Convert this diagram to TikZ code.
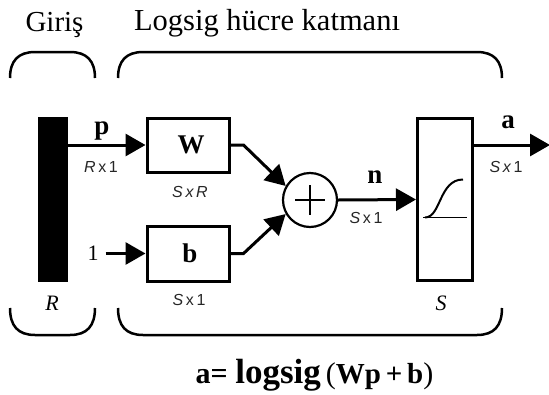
\documentclass[tikz,border=0pt]{standalone}
\usepackage{fontspec}
\setmainfont{Liberation Serif}
\newfontfamily\lsans{Liberation Sans}
\usetikzlibrary{arrows.meta,calc}
\tikzset{
  conn/.style={line width=3pt,-{Triangle[length=20pt,width=22pt]}},
  blockbox/.style={draw,line width=3pt,rectangle,inner sep=0pt},
  brk/.style={line width=2.5pt},
  boldlbl/.style={anchor=base,font=\fontsize{27}{29}\selectfont\bfseries,inner sep=0pt},
  dimlbl/.style={anchor=base,font=\lsans\fontsize{16}{18}\selectfont,inner sep=0pt,text=black!85},
  titlelbl/.style={anchor=base,inner sep=0pt},
  italbl/.style={anchor=base,font=\fontsize{22}{24}\selectfont\itshape,inner sep=0pt},
}
\begin{document}
\begin{tikzpicture}[x=1pt,y=-1pt]
\useasboundingbox (0,0) rectangle (549,394);
% titles
\node[titlelbl,font=\fontsize{29}{31}\selectfont] (tgir) at (54.5,31) {Giriş};
\node[titlelbl,font=\fontsize{30.5}{32}\selectfont] (tlog) at (267,30) {Logsig hücre katmanı};
% brackets
\draw[brk] (10,78) .. controls (10,61) and (18,52) .. (35,52) -- (70,52) .. controls (87,52) and (95,61) .. (95,78);
\draw[brk] (118,78) .. controls (118,61) and (126,52) .. (143,52) -- (477,52) .. controls (494,52) and (502,61) .. (502,78);
\draw[brk] (10,308) .. controls (10,326) and (18,335) .. (35,335) -- (70,335) .. controls (87,335) and (95,326) .. (95,308);
\draw[brk] (118,308) .. controls (118,326) and (126,335) .. (143,335) -- (477,335) .. controls (494,335) and (502,326) .. (502,308);
% blocks
\node[fill=black,minimum width=30pt,minimum height=165pt,inner sep=0pt] (bar) at (53,199.5) {};
\node[blockbox,minimum width=82pt,minimum height=54pt] (wbox) at (188,145) {};
\node[blockbox,minimum width=82pt,minimum height=55pt] (bbox) at (188,253.5) {};
\node[draw,circle,line width=2.2pt,minimum size=54pt,inner sep=0pt] (sum) at (310,200) {};
\node[blockbox,minimum width=55pt,minimum height=162pt] (sbox) at (445,199.5) {};
\node[font=\fontsize{22}{24}\selectfont,inner xsep=7pt,inner ysep=1pt] (one) at (93,253.5) {1};
\coordinate (out) at (550,145);
% inner glyphs
\node[boldlbl] (wl) at (191,153) {W};
\node[boldlbl] (bl) at (190,262) {b};
\draw[line width=2.2pt] ($(sum.center)+(-15,0)$) -- ($(sum.center)+(15,0)$);
\draw[line width=2.2pt] ($(sum.center)+(0,-15)$) -- ($(sum.center)+(0,15)$);
\draw[line width=1.8pt] ($(sbox.center)+(-22,18)$) -- ($(sbox.center)+(22,18)$);
\draw[line width=2pt] ($(sbox.center)+(-20,18)$) .. controls ($(sbox.center)+(-4,18)$) and ($(sbox.center)+(-6,-20)$) .. ($(sbox.center)+(18,-20)$);
% connectors
\draw[conn] (bar.east |- wbox.west) -- (wbox.west);
\draw[conn] (one.east) -- (bbox.west);
\draw[conn] (wbox.east) -- ++(13,0) -- (sum.150);
\draw[conn] (bbox.east) -- ++(13,0) -- (sum.210);
\draw[conn] (sum.east) -- (sbox.west);
\draw[conn] (sbox.east |- out) -- (out);
% labels
\node[boldlbl] (pl) at (102,134) {p};
\node[dimlbl] (pdim) at (101,172) {\itshape R\,\upshape x\,1};
\node[dimlbl] (wdim) at (190,197) {\itshape S\,x\,R};
\node[dimlbl] (bdim) at (189,305) {\itshape S\,\upshape x\,1};
\node[boldlbl] (nl) at (375,183) {n};
\node[dimlbl] (ndim) at (366,223) {\itshape S\,\upshape x\,1};
\node[boldlbl] (al) at (508,128) {a};
\node[dimlbl] (adim) at (506,172) {\itshape S\,x\,\upshape 1};
\node[italbl] (rl) at (52,310) {R};
\node[italbl] (sl) at (441,310) {S};
% formula
\node[anchor=base,inner sep=0pt] (formula) at (314.5,383) {\fontsize{30}{32}\selectfont\bfseries a=\ {\fontsize{35}{36}\selectfont logsig}\,{\mdseries(}\fontsize{29}{30}\selectfont Wp\,+\,b{\mdseries\fontsize{30}{32}\selectfont)}};
\end{tikzpicture}
\end{document}
